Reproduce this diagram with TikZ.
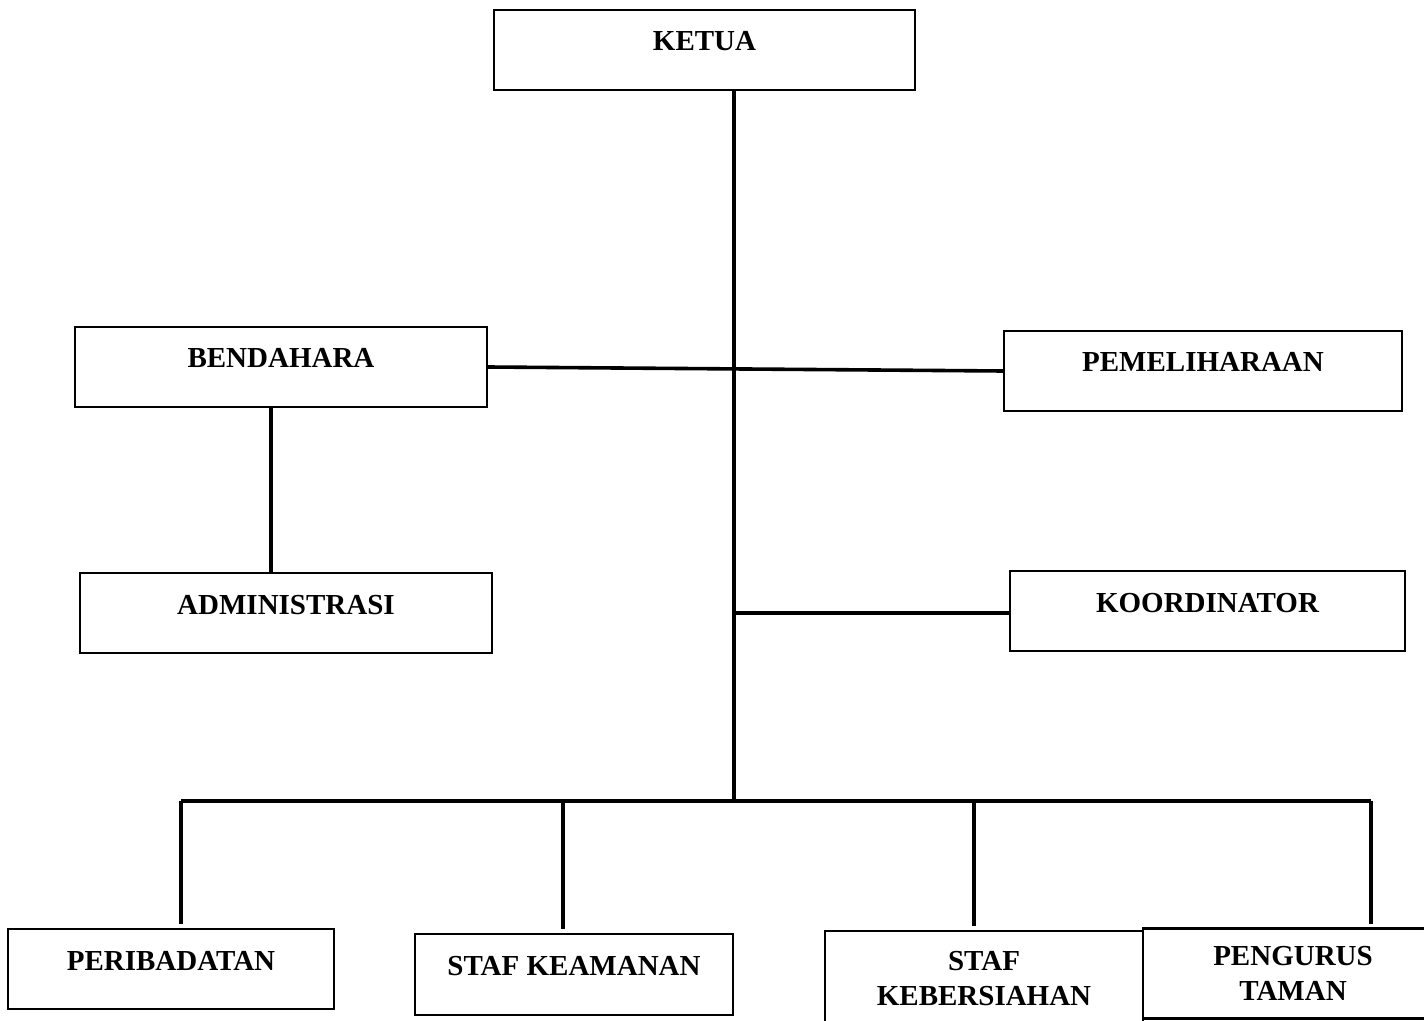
\documentclass[tikz,border=0pt]{standalone}
\usepackage{fontspec}
\setmainfont{Liberation Serif}
\usepackage{tikz}
\usetikzlibrary{calc}
\usetikzlibrary{positioning}
\tikzset{
    unit/.style={draw=black, fill=white, line width=1.2pt, inner sep=0pt,
                 font=\fontsize{14.5}{17.5}\selectfont\bfseries, align=center},
    toptext/.style={text height=10pt, text depth=9pt},
    link/.style={draw=black, line width=1.8pt}
}

\begin{document}
\begin{tikzpicture}[x=0.5pt, y=-0.5pt]
            \useasboundingbox (0,0) rectangle (1424,1021);
            \clip (0,0) rectangle (1424,1021);
            % boxes
            \node[unit, toptext, minimum width=210.5pt, minimum height=40pt] (ketua)        at ( 704.5,  50.0) {KETUA};
            \node[unit, toptext, minimum width=206pt,   minimum height=40pt] (bendahara)    at ( 281.0, 367.0) {BENDAHARA};
            \node[unit, toptext, minimum width=199pt,   minimum height=40pt] (pemeliharaan) at (1203.0, 371.0) {PEMELIHARAAN};
            \node[unit, toptext, minimum width=206pt,   minimum height=40pt] (administrasi) at ( 286.0, 613.0) {ADMINISTRASI};
            \node[unit, toptext, minimum width=197.5pt, minimum height=40pt] (koordinator)  at (1207.5, 611.0) {KOORDINATOR};
            \node[unit, toptext, minimum width=163pt,   minimum height=40pt] (peribadatan)  at ( 171.0, 969.0) {PERIBADATAN};
            \node[unit, toptext, minimum width=159pt,   minimum height=40.5pt] (keamanan)   at ( 574.0, 974.5) {STAF KEAMANAN};
            \node[unit, minimum width=159pt, minimum height=48pt]             (kebersihan)  at ( 984.0, 979.0) {STAF\\KEBERSIAHAN};
            \node[unit, minimum width=150pt, minimum height=45pt]             (pengurus)    at (1293.0, 973.5) {PENGURUS\\TAMAN};
            % lines
            \coordinate (hub) at (734,803);
            \coordinate (busL) at (181,801);
            \coordinate (busR) at (1371,801);
            \draw[link] (ketua.south -| hub) -- (hub);
            \draw[link] (bendahara.east) -- (pemeliharaan.west);
            \draw[link] ([xshift=-5pt]bendahara.south) -- ([xshift=-5pt]bendahara.south |- administrasi.north);
            \draw[link] ([yshift=-1pt]koordinator.west) -- ([yshift=-1pt]koordinator.west -| hub);
            \draw[link] (busL) -- (busR);
            \foreach \n/\x in {peribadatan/181, keamanan/563, kebersihan/974, pengurus/1371}
                \draw[link, shorten >=1.8pt] (\x,801) -- (\n.north -| \x,801);
        \end{tikzpicture}
\end{document}
